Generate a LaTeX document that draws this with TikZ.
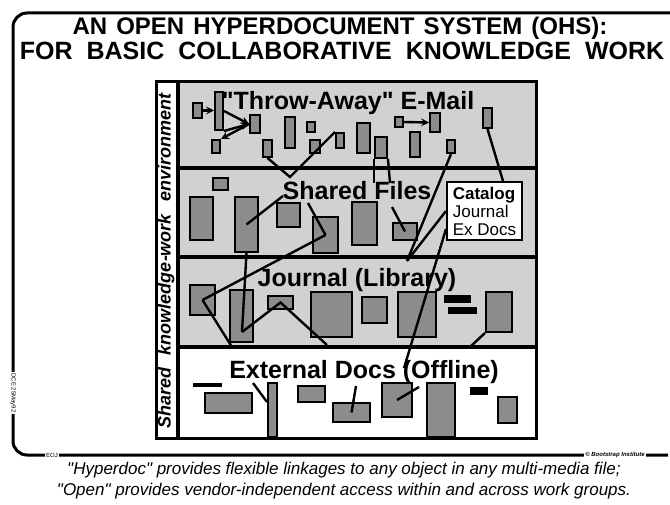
\documentclass[tikz,border=0pt]{standalone}
\usepackage{fontspec}
\setmainfont{Liberation Sans}
\usetikzlibrary{calc, positioning}

\begin{document}
\begin{tikzpicture}[x=1pt, y=-1pt, >=stealth,
    layer/.style={fill=gray!36},
    doc/.style args={#1x#2}{draw, line width=2pt, fill=black!45, inner sep=0pt,
        minimum width=#1, minimum height=#2},
    bar/.style args={#1x#2}{fill=black, inner sep=0pt, minimum width=#1, minimum height=#2},
    link/.style={line width=2.4pt},
    layerlabel/.style={font=\fontsize{25}{28}\selectfont\bfseries, anchor=base, inner sep=0pt},
    catbox/.style={draw, line width=2pt, fill=white, minimum width=75, minimum height=58,
        align=left, inner sep=3pt, font=\fontsize{17}{18}\selectfont},
    tiny/.style={fill=white, inner sep=1pt, font=\fontsize{6}{7}\selectfont}
]
    \useasboundingbox (0,0) rectangle (670,505);

    % =================================================================
    % 1. FRAME AND TITLE
    % =================================================================
    \draw[line width=3pt, rounded corners=14pt] (670,13) -- (13,13) -- (13,455) -- (668,455);
    \node[tiny] (eoj) at (52,455) {EOJ};
    \node[tiny, font=\fontsize{6}{7}\selectfont\bfseries\itshape] (boot) at (615,455) {© Bootstrap Institute};
    \node[tiny, rotate=-90] (dce) at (13,393) {DCE 25May92};

    \node[anchor=base, font=\fontsize{24}{28}\selectfont\bfseries] (title1) at (340,35)
        {\spaceskip=9pt AN OPEN HYPERDOCUMENT SYSTEM (OHS):};
    \node[anchor=base, font=\fontsize{25}{28}\selectfont\bfseries] (title2) at (342,60)
        {\spaceskip=14pt FOR BASIC COLLABORATIVE KNOWLEDGE WORK};

    % =================================================================
    % 2. THE FOUR LAYERS
    % =================================================================
    \fill[layer] (178,82) rectangle (536,347);
    \draw[line width=3pt] (156,82) rectangle (536,438);
    \draw[line width=4pt] (178,82) -- (178,438);
    \foreach \y in {168,257,347}
        \draw[line width=4.5pt] (178,\y) -- (536,\y);

    \node[rotate=90, font=\fontsize{18}{20}\selectfont\bfseries\itshape] (env) at (166,261)
        {\spaceskip=12pt Shared knowledge-work environment};

    \node[layerlabel] (mail) at (348,110) {\textquotedbl Throw-Away\textquotedbl\ E-Mail};
    \node[layerlabel] (files) at (357,200) {Shared Files};
    \node[layerlabel] (journal) at (357,287) {Journal (Library)};
    \node[layerlabel] (external) at (364,378) {External Docs (Offline)};

    % =================================================================
    % 3. DOCUMENTS IN EACH LAYER
    % =================================================================
    % E-Mail
    \node[doc=8x38] (a1) at (219,111) {};
    \node[doc=9x15] (a2) at (197.5,110.5) {};
    \node[doc=10x18] (a3) at (255,124) {};
    \node[doc=8x13] (a4) at (216,146.5) {};
    \node[doc=9x17] (a5) at (267.5,148.5) {};
    \node[doc=10x31] (a6) at (290,132.5) {};
    \node[doc=8x10] (a7) at (311,127) {};
    \node[doc=10x13] (a8) at (315,146.5) {};
    \node[doc=8x15] (a9) at (340,140.5) {};
    \node[doc=13x30] (a10) at (363.5,138) {};
    \node[doc=12x21] (a11) at (381,147.5) {};
    \node[doc=8x10] (a12) at (399,122) {};
    \node[doc=10x19] (a13) at (435,122.5) {};
    \node[doc=10x25] (a14) at (415,144.5) {};
    \node[doc=8x13] (a15) at (451,146.5) {};
    \node[doc=9x20] (a16) at (487.5,118) {};

    % Shared Files
    \node[doc=15x12] (b1) at (220.5,184) {};
    \node[doc=23x43] (b2) at (201.5,218.5) {};
    \node[doc=23x55] (b3) at (246.5,224.5) {};
    \node[doc=23x24] (b4) at (288.5,215) {};
    \node[doc=25x36] (b5) at (325.5,235) {};
    \node[doc=25x43] (b6) at (364.5,223.5) {};
    \node[doc=24x17] (b7) at (405,231.5) {};

    % Journal
    \node[doc=25x30] (c1) at (202.5,300) {};
    \node[doc=23x52] (c2) at (241.5,316) {};
    \node[doc=25x13] (c3) at (280.5,302.5) {};
    \node[doc=41x45] (c4) at (331.5,314.5) {};
    \node[doc=25x26] (c5) at (374.5,310) {};
    \node[doc=38x45] (c6) at (417,314.5) {};
    \node[doc=26x40] (c7) at (499,312) {};
    \node[bar=27x8] (c8) at (457.5,299) {};
    \node[bar=29x7] (c9) at (462.5,310.5) {};

    % External Docs
    \node[bar=29x4] (d0) at (207.5,385) {};
    \node[doc=47x20] (d1) at (228.5,403) {};
    \node[doc=9x54] (d2) at (272.5,410) {};
    \node[doc=27x16] (d3) at (311.5,394) {};
    \node[doc=37x19] (d4) at (351.5,412.5) {};
    \node[doc=30x34] (d5) at (397,400) {};
    \node[doc=28x54] (d6) at (441,410) {};
    \node[bar=18x8] (d7) at (479,391) {};
    \node[doc=19x26] (d8) at (507.5,410) {};

    \node[catbox] (cat) at (484.5,211) {\textbf{Catalog}\\Journal\\Ex Docs};

    % =================================================================
    % 4. LINKS
    % =================================================================
    \coordinate (vlow) at (290,177);
    \coordinate (fA) at (374,183);
    \coordinate (fB) at (390,183);
    \coordinate (apex) at (407,261);
    \coordinate (sS) at (283,196);
    \coordinate (sD) at (308,203);
    \coordinate (fF) at (392,207);
    \coordinate (c2in) at (242,332);
    \coordinate (c1end) at (232,347);
    \coordinate (c4foot) at (327,345);
    \coordinate (c7foot) at (470,347);
    \coordinate (tick) at (404,368);
    \coordinate (eX) at (253,383);
    \coordinate (dD) at (356,386);
    \coordinate (oP) at (419,387);

    \draw[link,->] (a2.east) -- (a2.east -| a1.west);
    \draw[link,->] (a1.east) -- (a3.west);
    \draw[link,->] (a1.south east) -- (a3.west);
    \draw[link,->] (a3.west) -- (a4.north east);
    \draw[link] (a5.south) -- (vlow) -- (a9.north west);
    \draw[link] (a11.south west) -- (fA);
    \draw[link] (a11.south east) -- (fB);
    \draw[link,->] (a12.east) -- (a13.west);
    \draw[link] (a15.south) -- (apex);
    \draw[link] (a16.south) -- ([xshift=-20pt]cat.north east);

    \draw[link] (sS) -- (b3.center);
    \draw[link] (sD) -- (b5.center);
    \draw[link] (b5.center) -- (c1.center);
    \draw[link] (b3.south) -- (c2in);
    \draw[link] (fF) -- (b7.center);
    \draw[link] (cat.west) -- (apex);
    \draw[link] ([yshift=-18pt]cat.west) -- (tick);

    \draw[link] (c1.center) -- (c1end);
    \draw[link] (c2in) -- (c3.center) -- (c4foot);
    \draw[link] (c7.south west) -- (c7foot);

    \draw[link] (eX) -- ([yshift=8pt]d2.west);
    \draw[link] (dD) -- (d4.center);
    \draw[link] (oP) -- (d5.center);

    % =================================================================
    % 5. CAPTION
    % =================================================================
    \node[anchor=base, font=\fontsize{17}{20}\selectfont\itshape] (cap1) at (344,474)
        {\textquotedbl Hyperdoc\textquotedbl\ provides flexible linkages to any object in any multi-media file;};
    \node[anchor=base, font=\fontsize{17}{20}\selectfont\itshape] (cap2) at (344,495)
        {\textquotedbl Open\textquotedbl\ provides vendor-independent access within and across work groups.};

\end{tikzpicture}
\end{document}
